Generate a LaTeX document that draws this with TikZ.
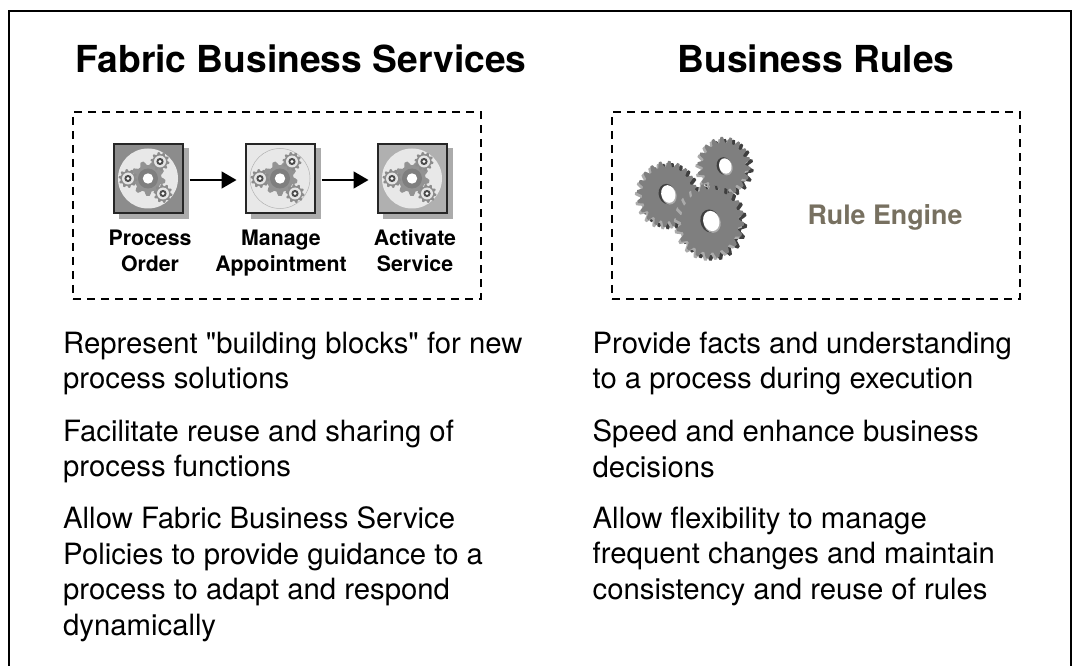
\documentclass[tikz,border=0pt]{standalone}
\usepackage{fontspec}
\setmainfont{TeX Gyre Heros}
\newfontfamily\plainfont{TeX Gyre Heros}
\usetikzlibrary{arrows.meta}
\definecolor{gearmid}{HTML}{7F7F7F}
\definecolor{geardark}{HTML}{3F3F3F}
\definecolor{gearlight}{HTML}{ABABAB}
\definecolor{ruletext}{HTML}{777060}
\tikzset{
  title/.style={font=\bfseries\fontsize{37.2}{40}\selectfont},
  body/.style={anchor=north west,align=left,inner sep=0pt,font=\plainfont\fontsize{29.3}{35.5}\selectfont},
  caption/.style={align=center,inner sep=0pt,font=\bfseries\fontsize{21.3}{26}\selectfont},
  dashbox/.style={draw,line width=1.6pt,dash pattern=on 8pt off 6pt},
  icon/.style={draw=black!85,line width=2pt,minimum size=69pt,inner sep=0pt},
  flow/.style={line width=1.6pt,-{Triangle[length=15pt,width=17pt]}},
}
% toothed outline: centre x, centre y, radius, tooth height, number of teeth
\newcommand{\gearshape}[5]{plot[samples=#5*8+1,domain=0:360,shift={(#1,#2)}]
  (\x:{#3+#4*max(-1,min(1,2*sin(#5*\x)))})}
% shaded gear: centre x, centre y, radius, teeth
\newcommand{\biggear}[4]{
  \begin{scope}[shift={(#1,#2)},yscale=1.1]
  \fill[geardark] \gearshape{3}{2}{#3}{2.6}{#4};
  \fill[gearlight] \gearshape{-2}{2}{#3}{2.6}{#4};
  \fill[gearmid] \gearshape{0}{0}{#3}{2.6}{#4};
  \fill[geardark,rotate=25] (0,0) ellipse (#3*0.3 and #3*0.34);
  \fill[gearlight,rotate around={25:(2,1)}] (2,1) ellipse (#3*0.27 and #3*0.32);
  \fill[white,rotate around={25:(1.3,0)}] (1.3,0) ellipse (#3*0.25 and #3*0.3);
  \end{scope}
}
% little gear on an icon
\newcommand{\tinygear}[2]{
  \fill[gray!90] \gearshape{#1}{#2}{8.4}{1}{10};
  \fill[white!90!black] (#1,#2) circle (6);
  \fill[black!70] (#1,#2) circle (3.6);
  \fill[white] (#1,#2) circle (1.6);
}
% gears of an icon: centre x, centre y
\newcommand{\icongears}[2]{
  \fill[gray!85] \gearshape{#1}{#2}{15.5}{2}{9};
  \fill[gearmid] (#1,#2) circle (10);
  \fill[white] (#1,#2) circle (5.2);
  \tinygear{#1-20}{#2}
  \tinygear{#1+12}{#2-17}
  \tinygear{#1+15}{#2+15}
}
\begin{document}
\begin{tikzpicture}[x=1pt,y=-1pt]
  \useasboundingbox (0,0) rectangle (1072,666);
  \draw[line width=2pt] (9,666) -- (9,11) -- (1071,11) -- (1071,666);

  \node[title] (fabric) at (301,59) {Fabric Business Services};
  \node[title] (rules) at (816,59) {Business Rules};

  \node[dashbox,minimum width=408pt,minimum height=187pt,inner sep=0pt] (fabricbox) at (277,205.5) {};
  \node[dashbox,minimum width=408pt,minimum height=187pt,inner sep=0pt] (rulebox) at (816,205.5) {};

  % icon shadows
  \fill[gearlight] (119,148) rectangle (189,219);
  \fill[gearlight] (251,148) rectangle (321,219);
  \fill[gearlight] (383,148) rectangle (453,219);

  \node[icon,fill=black!45] (order) at (148,178.5) {};
  \node[icon,fill=black!9] (appointment) at (280,178.5) {};
  \node[icon,fill=black!31] (activate) at (412,178.5) {};
  \fill[black!9] (order.center) circle (30);
  \draw[black!30,line width=0.5pt] (appointment.center) circle (30);
  \fill[black!9] (activate.center) circle (30);
  \icongears{148}{178.5}
  \icongears{280}{178.5}
  \icongears{412}{178.5}

  \draw[flow] ([shift={(6,1.5)}]order.east) -- ([shift={(-8,1.5)}]appointment.west);
  \draw[flow] ([shift={(6,1.5)}]appointment.east) -- ([shift={(-8,1.5)}]activate.west);

  \node[caption] (ordertext) at (150,251) {Process\\Order};
  \node[caption] (appointmenttext) at (281,253) {Manage\\Appointment};
  \node[caption] (activatetext) at (415,251) {Activate\\Service};

  \biggear{667}{194}{27.5}{20}
  \biggear{724}{166}{24}{18}
  \biggear{710}{221}{31.5}{20}
  \node[inner sep=0pt,text=ruletext,font=\bfseries\fontsize{26.8}{30}\selectfont] (engine) at (885,217) {Rule Engine};

  \node[body] (f1) at (63,331.5) {Represent "building blocks" for new\\process solutions};
  \node[body] (f2) at (63,419.5) {Facilitate reuse and sharing of\\process functions};
  \node[body] (f3) at (63,506.5) {Allow Fabric Business Service\\Policies to provide guidance to a\\process to adapt and respond\\dynamically};

  \node[body] (r1) at (592.5,331.5) {Provide facts and understanding\\to a process during execution};
  \node[body] (r2) at (592.5,419.5) {Speed and enhance business\\decisions};
  \node[body] (r3) at (592.5,506.5) {Allow flexibility to manage\\frequent changes and maintain\\consistency and reuse of rules};
\end{tikzpicture}
\end{document}
